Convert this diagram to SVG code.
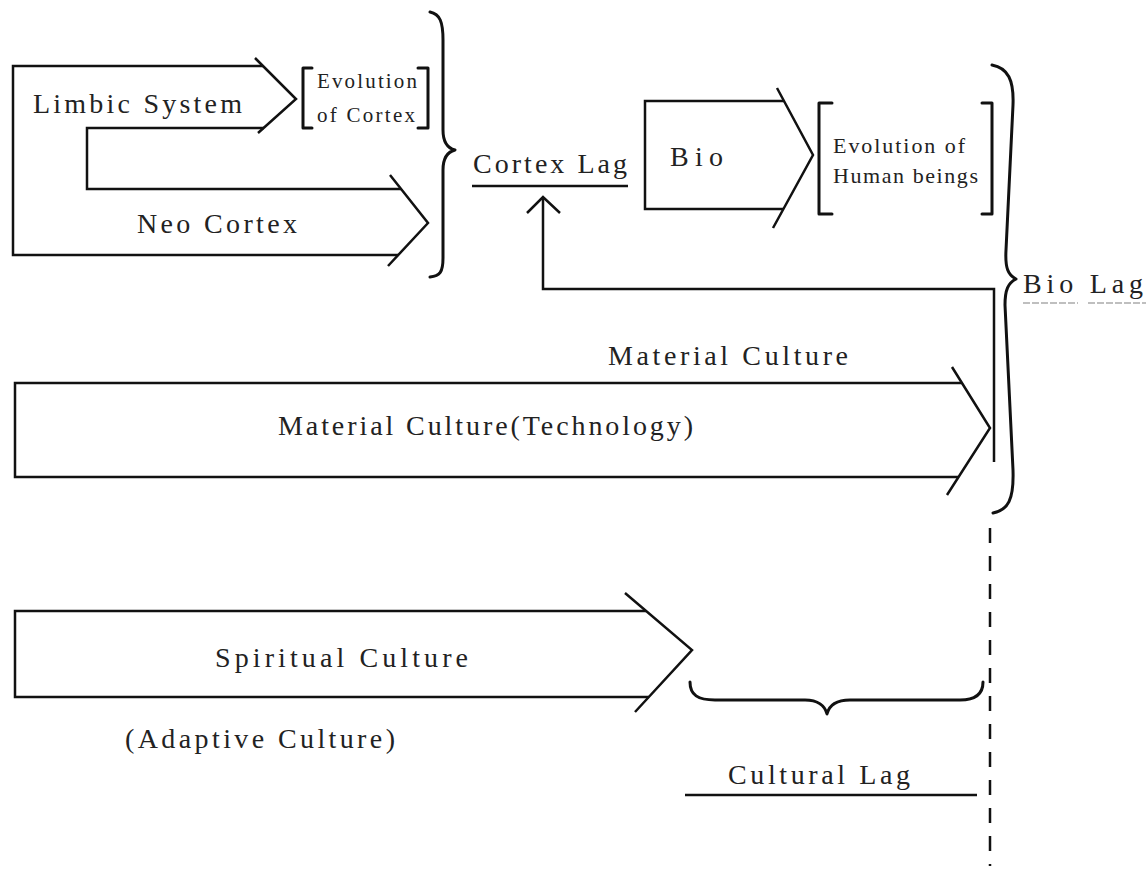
<svg xmlns="http://www.w3.org/2000/svg" width="1146" height="875" viewBox="0 0 1146 875">
  <style>
    .ln { fill: none; stroke: #111; stroke-width: 2.5; stroke-linejoin: miter; stroke-linecap: butt; }
    .br { fill: none; stroke: #111; stroke-width: 3; stroke-linecap: round; stroke-linejoin: round; }
    text { font-family: 'Liberation Serif', 'DejaVu Serif', 'Times New Roman', serif; fill: #222; }
    .big { font-size: 28px; }
    .mid { font-size: 22px; }
    .sm { font-size: 21px; }
  </style>
  <rect width="1146" height="875" fill="#fff"/>

  <!-- Limbic system / neo cortex folded arrow -->
  <g id="limbic-neo">
    <path class="ln" d="M263,66 H13 V255 H398"/>
    <path class="ln" d="M401,189 H87 V128 H264"/>
    <path class="ln" d="M255,58 L296,99 L258,133"/>
    <path class="ln" d="M390,175 L428,223 L388,266"/>
    <text class="big" x="33" y="113" textLength="209" lengthAdjust="spacing" style="font-family:'Liberation Serif',serif">Limbic System</text>
    <text class="big" x="137" y="233" textLength="160" lengthAdjust="spacing" style="font-family:'Liberation Serif',serif">Neo Cortex</text>
  </g>

  <g id="evolution-cortex">
    <path class="br" d="M312,68 H303 V128 H312"/>
    <path class="br" d="M418,68 H428 V128 H418"/>
    <text class="sm" x="317" y="88" textLength="100" lengthAdjust="spacing" style="font-family:'Liberation Serif',serif">Evolution</text>
    <text class="sm" x="317" y="122" textLength="98" lengthAdjust="spacing" style="font-family:'Liberation Serif',serif">of Cortex</text>
  </g>

  <g id="brace-cortex">
    <path class="br" d="M430,12 C440,14 443,22 443,40 L443,130 C443,142 447,148 455,150 C447,152 443,158 443,170 L443,258 C443,272 440,276 430,277"/>
  </g>

  <g id="cortex-lag">
    <text class="big" x="473" y="173" textLength="154" lengthAdjust="spacing" style="font-family:'Liberation Serif',serif">Cortex Lag</text>
    <path class="ln" d="M472,186 H628"/>
  </g>

  <!-- Bio arrow -->
  <g id="bio">
    <path class="ln" d="M784,101 H645 V209 H783"/>
    <path class="ln" d="M777,88 L813,155 L773,228"/>
    <text class="big" x="670" y="166" textLength="53" lengthAdjust="spacing" style="font-family:'Liberation Serif',serif">Bio</text>
  </g>

  <g id="evolution-human">
    <path class="br" d="M832,103 H819 V214 H832"/>
    <path class="br" d="M982,103 H992 V214 H982"/>
    <text class="mid" x="833" y="153" textLength="132" lengthAdjust="spacing" style="font-family:'Liberation Serif',serif">Evolution of</text>
    <text class="mid" x="833" y="183" textLength="145" lengthAdjust="spacing" style="font-family:'Liberation Serif',serif">Human beings</text>
  </g>

  <g id="brace-bio">
    <path class="br" d="M992,65 C1008,68 1014,80 1013,105 L1006,250 C1005,268 1008,275 1016,279 C1008,283 1005,290 1005,305 L1013,470 C1014,500 1008,510 993,513"/>
  </g>

  <g id="bio-lag">
    <text class="big" x="1023" y="293" textLength="120" lengthAdjust="spacing" style="font-family:'Liberation Serif',serif">Bio Lag</text>
    <path d="M1023,303 H1078 M1088,303 H1146" fill="none" stroke="#aaa" stroke-width="1.5" stroke-dasharray="7 2"/>
  </g>

  <!-- Material culture arrow -->
  <g id="material">
    <path class="ln" d="M962,383 H15 V477 H958"/>
    <path class="ln" d="M952,367 L990,428 L947,495"/>
    <text class="big" x="608" y="365" textLength="240" lengthAdjust="spacing" style="font-family:'Liberation Serif',serif">Material Culture</text>
    <text class="big" x="278" y="435" textLength="415" lengthAdjust="spacing" style="font-family:'Liberation Serif',serif">Material Culture(Technology)</text>
  </g>

  <!-- Spiritual culture arrow -->
  <g id="spiritual">
    <path class="ln" d="M646,611 H15 V697 H649"/>
    <path class="ln" d="M625,593 L692,650 L635,712"/>
    <text class="big" x="215" y="667" textLength="253" lengthAdjust="spacing" style="font-family:'Liberation Serif',serif">Spiritual Culture</text>
    <text class="big" x="125" y="748" textLength="270" lengthAdjust="spacing" style="font-family:'Liberation Serif',serif">(Adaptive Culture)</text>
  </g>

  <g id="cultural-lag">
    <path class="br" d="M690,682 C690,695 698,700 715,700 L805,700 C818,700 825,706 827,714 C829,706 836,700 850,700 L960,700 C975,700 983,694 983,682"/>
    <text class="big" x="728" y="784" textLength="182" lengthAdjust="spacing" style="font-family:'Liberation Serif',serif">Cultural Lag</text>
    <path class="ln" d="M685,795 H977"/>
  </g>

  <!-- Connectors -->
  <g id="connectors">
    <path class="ln" d="M994,462 V289 H543 V199"/>
    <path class="ln" d="M527,213 L543,197 L560,213"/>
    <path d="M990,528 V866" fill="none" stroke="#111" stroke-width="2.5" stroke-dasharray="15 13"/>
  </g>
</svg>
